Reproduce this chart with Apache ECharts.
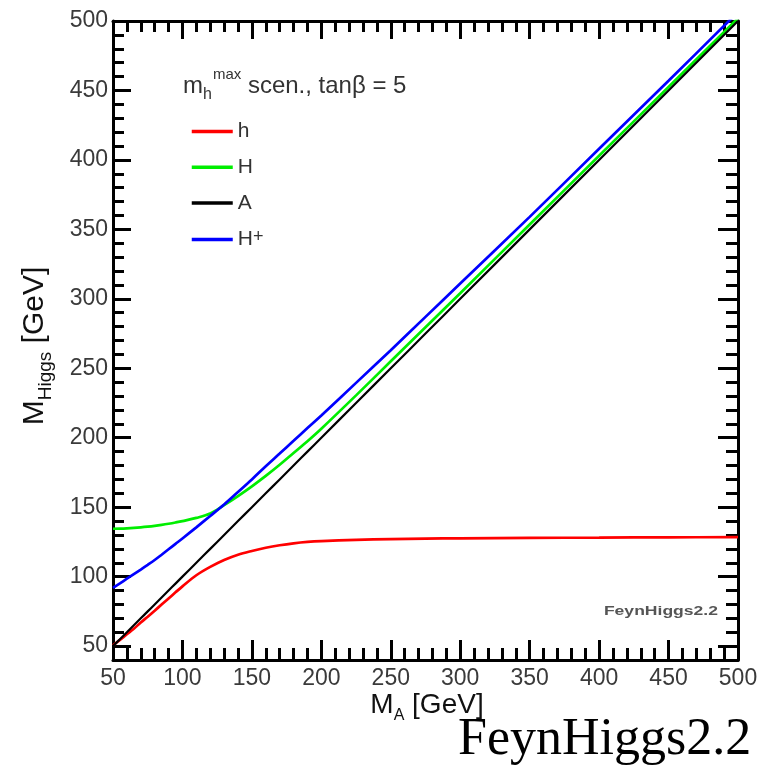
<!DOCTYPE html>
<html>
<head>
<meta charset="utf-8">
<script src="https://cdn.jsdelivr.net/npm/echarts@6/dist/echarts.min.js"></script>
<style>
html,body{margin:0;padding:0;background:#fff;}
#chart{width:761px;height:766px;}
</style>
</head>
<body>
<div id="chart"></div>
<script>
// M_A values (GeV)
const maValues = [50,55,60,65,70,75,80,85,90,95,100,110,120,130,140,150,160,170,180,190,200,225,250,275,300,350,400,450,500];
// light CP-even Higgs h
const hMass = [50.5,54.5,58.5,62.5,67,71.2,75.5,79.9,84.3,88.7,93,101,107,112,115.8,118.5,120.8,122.6,124,125,125.6,126.5,127,127.4,127.6,127.9,128.1,128.3,128.4];
// heavy CP-even Higgs H
const HMass = [134.5,134.6,134.8,135.1,135.5,136,136.6,137.3,138.1,139,140,142.3,145.5,151.5,158,165,172.5,180.5,189,197.5,206.5,230.5,255,279.5,304,353.5,403,452.5,502];
// CP-odd Higgs A
const AMass = [50,55,60,65,70,75,80,85,90,95,100,110,120,130,140,150,160,170,180,190,200,225,250,275,300,350,400,450,500];
// charged Higgs H+
const HpMass = [92,95.2,98.5,101.8,105.1,108.5,112,115.8,119.7,123.6,127.5,135.5,143.7,152,161,170,179.5,188.6,197.8,207,216,239.5,263,287,311,359,408,457,506.5];

const seriesNames = ['h','H','A','H+'];
const seriesColors = ['#ff0000','#00ee00','#000000','#0000ff'];
const seriesData = [hMass, HMass, AMass, HpMass];

const yMajorTicks = [50,100,150,200,250,300,350,400,450,500];

const chart = echarts.init(document.getElementById('chart'), null, {renderer:'canvas'});
const font = 'Liberation Sans, Arial, Helvetica, sans-serif';
const lineW = 3;
const labelStyle = {color:'#3a3a3a', fontSize:23, fontFamily:font};

function xAx(pos, showLabel, majorLen, minorLen){
  return {
    type:'value', position:pos, min:50, max:500, interval:50,
    axisLine:{show:true, onZero:false, lineStyle:{color:'#000', width:lineW}},
    axisTick:{show:true, inside:true, length:majorLen, lineStyle:{color:'#000', width:lineW}},
    minorTick:{show:true, splitNumber:5, length:minorLen, lineStyle:{color:'#000', width:lineW}},
    axisLabel:Object.assign({show:showLabel, margin:7, showMinLabel:true, showMaxLabel:true}, labelStyle),
    splitLine:{show:false}, minorSplitLine:{show:false}
  };
}
function yMinor(pos, showLabel, len){
  return {
    type:'value', position:pos, min:40, max:500, interval:10,
    axisLine:{show:true, onZero:false, lineStyle:{color:'#000', width:lineW}},
    axisTick:{show:true, inside:true, length:len, lineStyle:{color:'#000', width:lineW}},
    axisLabel:Object.assign({show:showLabel, margin:5, formatter:function(v){return v%50===0 ? String(v) : '';}}, labelStyle),
    splitLine:{show:false}
  };
}
function yMajor(pos, len){
  return {
    type:'value', position:pos, min:40, max:500, interval:10,
    axisLine:{show:false},
    axisTick:{show:true, inside:true, length:len, customValues:yMajorTicks, lineStyle:{color:'#000', width:lineW}},
    axisLabel:{show:false},
    splitLine:{show:false}
  };
}

const option = {
  backgroundColor:'#ffffff',
  animation:false,
  grid:{left:113, right:23, top:21, bottom:106, containLabel:false},
  xAxis:[ xAx('bottom', true, 20, 12), xAx('top', false, 18, 11) ],
  yAxis:[ yMinor('left', true, 11), yMajor('left', 18), yMinor('right', false, 12), yMajor('right', 20) ],
  legend:{
    orient:'vertical', left:190, top:121, padding:0,
    itemWidth:41, itemHeight:22, itemGap:14.8, itemTextGap:7,
    itemStyle:{opacity:0},
    lineStyle:{width:3.5},
    data:seriesNames,
    formatter:function(n){ return n==='H+' ? '{b|H}{p|+}' : '{b|'+n+'}'; },
    textStyle:{color:'#333', fontSize:21, fontFamily:font,
      rich:{ b:{fontSize:21, lineHeight:22, fontFamily:font, color:'#333'},
             p:{fontSize:18, lineHeight:22, verticalAlign:'top', padding:[0,0,10,0], fontFamily:font, color:'#333'} } }
  },
  series: seriesNames.map(function(n,i){
    return {
      name:n, type:'line', xAxisIndex:0, yAxisIndex:0,
      data: maValues.map(function(x,k){ return [x, seriesData[i][k]]; }),
      smooth:0.35, symbol:'none', clip:true,
      lineStyle:{color:seriesColors[i], width: i===2 ? 2.2 : 2.7},
      itemStyle:{color:seriesColors[i]}
    };
  }),
  graphic:[
    { type:'text', left:183, top:67,
      style:{ text:'{m|m}{s|h}{u|max}{m| scen., tan\u03b2 = 5}', fill:'#333',
        rich:{ m:{fontSize:24, lineHeight:24, padding:[7,0,0,0], verticalAlign:'top', fontFamily:font, fill:'#333'},
               s:{fontSize:16, lineHeight:16, padding:[20,0,0,0], verticalAlign:'top', fontFamily:font, fill:'#333'},
               u:{fontSize:15, lineHeight:15, padding:[0,0,0,1], verticalAlign:'top', fontFamily:font, fill:'#333'} } } },
    { type:'text', x:427, y:705,
      style:{ text:'{m|M}{s|A}{m| [GeV]}', align:'center', verticalAlign:'middle', fill:'#111',
        rich:{ m:{fontSize:28, lineHeight:28, verticalAlign:'top', fontFamily:font, fill:'#111'},
               s:{fontSize:16, lineHeight:16, padding:[17,0,0,0], verticalAlign:'top', fontFamily:font, fill:'#111'} } } },
    { type:'text', x:35, y:346, rotation:Math.PI/2,
      style:{ text:'{m|M}{s|Higgs}{m| [GeV]}', align:'center', verticalAlign:'middle', fill:'#111',
        rich:{ m:{fontSize:30, lineHeight:30, verticalAlign:'top', fontFamily:font, fill:'#111'},
               s:{fontSize:19, lineHeight:19, padding:[16,0,0,0], verticalAlign:'top', fontFamily:font, fill:'#111'} } } },
    { type:'text', x:718, y:611, scaleX:1.35,
      style:{ text:'FeynHiggs2.2', align:'right', verticalAlign:'middle', fill:'#555',
        fontSize:13, fontWeight:'bold', fontFamily:font } },
    { type:'text', x:458, y:740,
      style:{ text:'FeynHiggs2.2', align:'left', verticalAlign:'middle', fill:'#000',
        fontSize:52, fontFamily:'Liberation Serif, Times New Roman, serif' } }
  ]
};
chart.setOption(option);
</script>
</body>
</html>
